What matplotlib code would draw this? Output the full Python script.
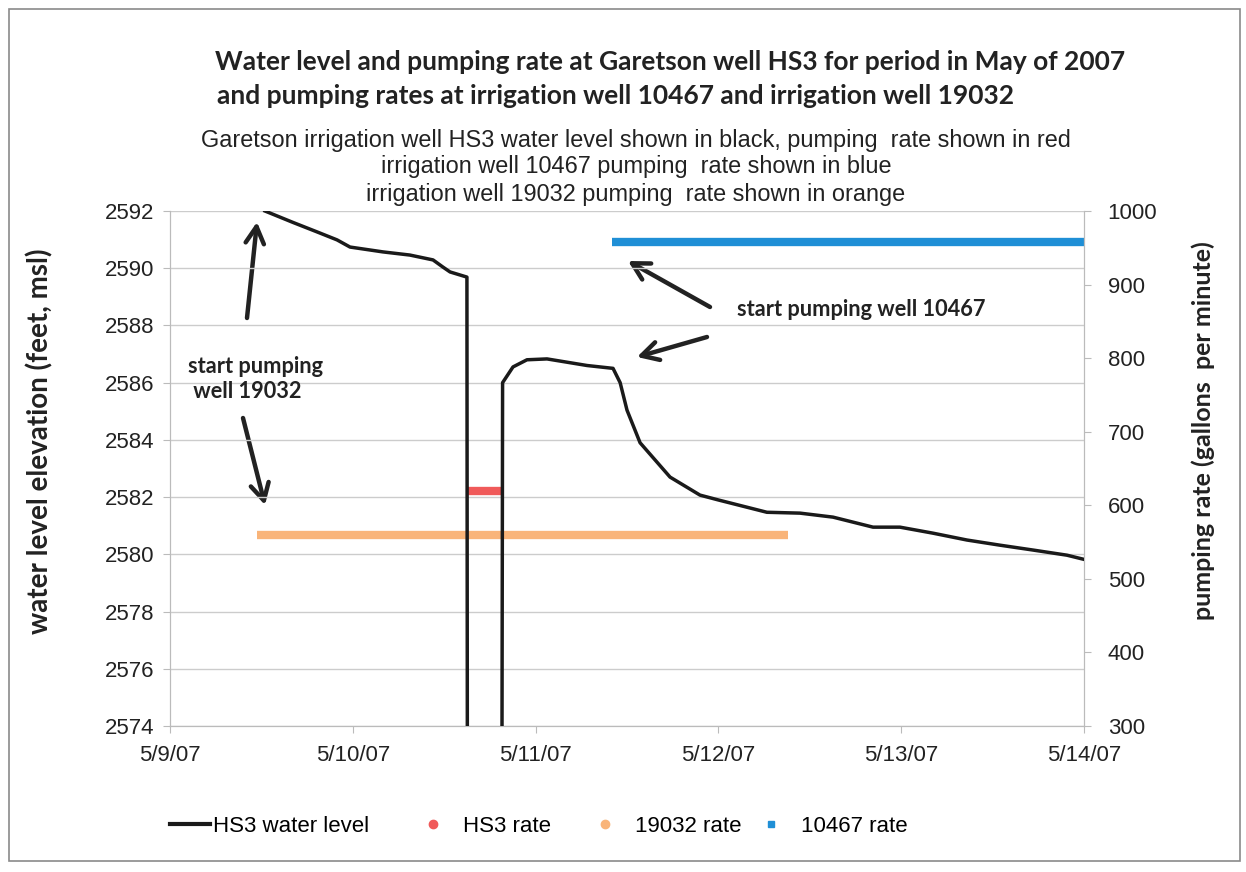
#!/usr/bin/env python3
# -*- coding: utf-8 -*-
"""
Garetson well HS3 water level and pumping rates, May 2007
"""

import matplotlib
matplotlib.use("Agg")
import matplotlib.pyplot as plt
from matplotlib.lines import Line2D
from matplotlib.patches import Rectangle, FancyArrowPatch
import pandas as pd

# HS3 water level (feet, msl)
level_times = ["2007-05-09 12:28", "2007-05-09 16:09", "2007-05-09 19:18", "2007-05-09 21:56",
               "2007-05-09 23:38", "2007-05-10 03:58", "2007-05-10 07:30", "2007-05-10 10:32",
               "2007-05-10 11:50", "2007-05-10 12:46", "2007-05-10 14:59", "2007-05-10 15:05",
               "2007-05-10 19:30", "2007-05-10 19:40", "2007-05-10 21:02", "2007-05-10 22:52",
               "2007-05-11 01:30", "2007-05-11 06:45", "2007-05-11 10:10", "2007-05-11 11:06",
               "2007-05-11 12:00", "2007-05-11 13:43", "2007-05-11 17:39", "2007-05-11 21:35",
               "2007-05-12 00:00", "2007-05-12 06:22", "2007-05-12 10:43", "2007-05-12 15:03",
               "2007-05-12 20:18", "2007-05-12 23:50", "2007-05-13 04:10", "2007-05-13 08:38",
               "2007-05-13 12:58", "2007-05-13 17:18", "2007-05-13 21:46", "2007-05-13 23:54"]
level_values = [2592.0, 2591.6, 2591.27, 2590.99,
                2590.74, 2590.57, 2590.46, 2590.29,
                2590.04, 2589.87, 2589.69, 2560.0,
                2560.0, 2586.0, 2586.55, 2586.8,
                2586.83, 2586.6, 2586.5, 2586.0,
                2585.04, 2583.9, 2582.7, 2582.07,
                2581.9, 2581.47, 2581.44, 2581.3,
                2580.95, 2580.95, 2580.74, 2580.5,
                2580.32, 2580.15, 2579.97, 2579.83]

# pumping rates (gallons per minute)
hs3_times = ["2007-05-10 15:05", "2007-05-10 19:35"]
hs3_rate = [620, 620]
w19032_times = ["2007-05-09 11:25", "2007-05-12 09:08"]
w19032_rate = [560, 560]
w10467_times = ["2007-05-11 10:02", "2007-05-14 00:00"]
w10467_rate = [958, 958]

x_ticks = ["2007-05-09", "2007-05-10", "2007-05-11", "2007-05-12", "2007-05-13", "2007-05-14"]
x_tick_labels = ["5/9/07", "5/10/07", "5/11/07", "5/12/07", "5/13/07", "5/14/07"]

BLACK = "#1a1a1a"
RED = "#f05a5a"
ORANGE = "#f9b479"
BLUE = "#1f8fd6"
GRID = "#cccccc"

W, H = 1246, 872


def fig_xy(px, py):
    """pixel position (top-left origin) -> figure fraction"""
    return px / W, 1 - py / H


def main():
    fig = plt.figure(figsize=(W / 100, H / 100), dpi=100)
    fig.patch.set_facecolor("white")

    x0, y1 = fig_xy(170, 211)
    x1, y0 = fig_xy(1084, 726)
    ax = fig.add_axes([x0, y0, x1 - x0, y1 - y0])
    ax2 = ax.twinx()

    tf = pd.to_datetime
    ax.plot(tf(level_times), level_values, color=BLACK, lw=2.5, solid_joinstyle="round", zorder=5)
    ax2.plot(tf(hs3_times), hs3_rate, color=RED, lw=6, solid_capstyle="butt")
    ax2.plot(tf(w19032_times), w19032_rate, color=ORANGE, lw=6, solid_capstyle="butt")
    ax2.plot(tf(w10467_times), w10467_rate, color=BLUE, lw=6, solid_capstyle="butt")
    ax.set_zorder(ax2.get_zorder() + 1)
    ax.patch.set_visible(False)

    ax.set_xlim(tf("2007-05-09"), tf("2007-05-14"))
    ax.set_ylim(2574, 2592)
    ax2.set_ylim(300, 1000)
    ax.set_yticks(range(2574, 2593, 2))
    ax2.set_yticks(range(300, 1001, 100))
    ax.set_xticks(tf(x_ticks))
    ax.set_xticklabels(x_tick_labels)

    for lab in ax.get_xticklabels() + ax.get_yticklabels() + ax2.get_yticklabels():
        lab.set_fontfamily(["Liberation Sans", "DejaVu Sans"])
        lab.set_fontsize(16)
        lab.set_color("#222222")

    ax.grid(axis="y", color=GRID, lw=1)
    for a in (ax, ax2):
        a.spines["top"].set_visible(False)
        for side in ("left", "right", "bottom"):
            a.spines[side].set_color("#bbbbbb")
        a.tick_params(length=5, color="#bbbbbb", pad=6)
    ax2.tick_params(pad=12)
    ax.tick_params(axis="x", pad=9)

    lab_font = dict(family=["Lato", "DejaVu Sans"], fontweight="bold", color="#222222")
    ax.set_ylabel("water level elevation (feet, msl)", fontsize=20, va="center", **lab_font)
    ax2.set_ylabel("pumping rate (gallons  per minute)", fontsize=18, va="center", **lab_font)
    ax.yaxis.set_label_coords(-0.1422, 0.553)
    ax2.yaxis.set_label_coords(1.130, 0.573)

    # titles
    title_font = dict(family=["Lato", "DejaVu Sans"], fontweight="bold", fontsize=19, color="#222222")
    fig.text(*fig_xy(215, 62), "Water level and pumping rate at Garetson well HS3 for period in May of 2007",
             ha="left", va="center", **title_font)
    fig.text(*fig_xy(217, 96), "and pumping rates at irrigation well 10467 and irrigation well 19032",
             ha="left", va="center", **title_font)

    sub_font = dict(family=["Liberation Sans", "DejaVu Sans"], fontsize=16.9, color="#222222")
    subs = ["Garetson irrigation well HS3 water level shown in black, pumping  rate shown in red",
            "irrigation well 10467 pumping  rate shown in blue",
            "irrigation well 19032 pumping  rate shown in orange"]
    for s, py in zip(subs, [141, 167, 194]):
        fig.text(*fig_xy(636, py), s, ha="center", va="center", **sub_font)

    # annotations
    note_font = dict(family=["Lato", "DejaVu Sans"], fontweight="bold", fontsize=15.7, color="#222222")
    fig.text(*fig_xy(737, 310), "start pumping well 10467", ha="left", va="center", **note_font)
    fig.text(*fig_xy(188, 379), "start pumping\n well 19032", ha="left", va="center",
             linespacing=1.25, **note_font)

    arrows = [((247, 318), (257, 222)), ((243, 418), (265, 505)),
              ((710, 307), (628, 261)), ((707, 337), (637, 357))]
    for (tx, ty), (hx, hy) in arrows:
        fig.add_artist(FancyArrowPatch(
            fig_xy(tx, ty), fig_xy(hx, hy), transform=fig.transFigure,
            arrowstyle="->,head_length=0.55,head_width=0.3", mutation_scale=22,
            lw=3.2, color="#222222", shrinkA=0, shrinkB=0))

    # legend, one entry at a time to match the spacing
    entries = [(Line2D([], [], color=BLACK, lw=3), "HS3 water level", 170, 0.15),
               (Line2D([], [], color=RED, marker="o", ls="none", ms=6), "HS3 rate", 413, 0.45),
               (Line2D([], [], color=ORANGE, marker="o", ls="none", ms=6), "19032 rate", 585, 0.45),
               (Line2D([], [], color=BLUE, marker="s", ls="none", ms=5), "10467 rate", 751, 0.45)]
    for handle, label, px, pad in entries:
        fig.legend([handle], [label], loc="center left", bbox_to_anchor=fig_xy(px, 826),
                   frameon=False, handlelength=1.8, handletextpad=pad, borderpad=0,
                   borderaxespad=0, prop=dict(family=["Liberation Sans", "DejaVu Sans"], size=16))

    # outer border
    fig.add_artist(Rectangle(fig_xy(9, 861), (1240 - 9) / W, (861 - 9) / H,
                             transform=fig.transFigure, fill=False, ec="#8a8a8a", lw=1.2))

    plt.savefig("out.png", dpi=100)
    plt.close()


if __name__ == "__main__":
    main()
